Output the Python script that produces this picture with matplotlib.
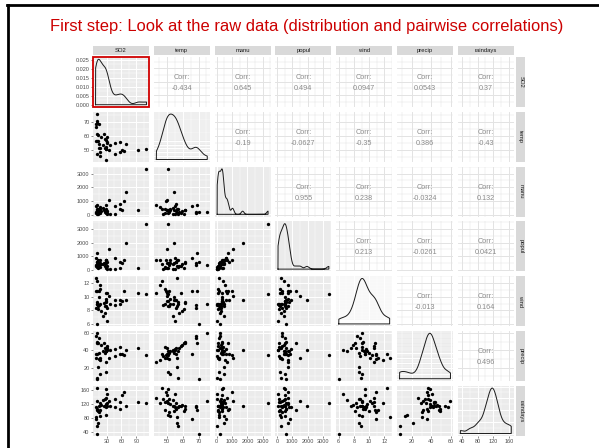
import numpy as np
import matplotlib
matplotlib.use('Agg')
import matplotlib.pyplot as plt
from matplotlib.patches import Rectangle
from matplotlib.lines import Line2D

plt.rcParams['font.family'] = ['Liberation Sans', 'DejaVu Sans']

# ---- data (US air pollution, 41 cities) ----
var_names = ['SO2', 'temp', 'manu', 'popul', 'wind', 'precip', 'raindays']
SO2 = [46, 11, 24, 47, 11, 31, 110, 23, 65, 26, 9, 17, 17, 35, 56, 10, 28, 14, 14, 13, 30,
       10, 10, 16, 29, 18, 9, 31, 14, 69, 10, 61, 94, 26, 28, 12, 29, 56, 28, 8, 36]
temp = [47.6, 56.8, 61.5, 55.0, 47.1, 55.2, 50.6, 54.0, 49.7, 51.5, 66.2, 51.9, 49.0, 49.9,
        49.1, 68.9, 52.3, 68.4, 54.5, 61.0, 55.6, 61.6, 75.5, 45.7, 43.5, 59.4, 68.3, 59.3,
        51.5, 54.6, 70.3, 50.4, 50.0, 57.8, 51.0, 56.7, 51.1, 55.9, 57.3, 56.6, 54.0]
manu = [44, 46, 368, 625, 391, 35, 3344, 462, 1007, 266, 641, 454, 104, 1064, 412, 721, 361,
        136, 381, 91, 291, 337, 207, 569, 699, 275, 204, 96, 181, 1692, 213, 347, 343, 197,
        137, 453, 379, 775, 434, 125, 80]
popul = [116, 244, 497, 905, 463, 71, 3369, 453, 751, 540, 844, 515, 201, 1513, 158, 1233,
         746, 529, 507, 132, 593, 624, 335, 717, 744, 448, 361, 308, 347, 1950, 582, 520, 179,
         299, 176, 716, 531, 622, 757, 277, 80]
wind = [8.8, 8.9, 9.1, 9.6, 12.4, 6.5, 10.4, 7.1, 10.9, 8.6, 10.9, 9.0, 11.2, 10.1, 9.0,
        10.8, 9.7, 8.8, 10.0, 8.2, 8.3, 9.2, 9.0, 11.8, 10.6, 7.9, 8.4, 10.6, 10.9, 9.6, 6.0,
        9.4, 10.6, 7.6, 8.7, 8.7, 9.4, 9.5, 9.3, 12.7, 9.0]
precip = [33.36, 7.77, 48.34, 41.31, 36.11, 40.75, 34.44, 39.04, 34.99, 37.01, 35.94, 12.95,
          30.85, 30.96, 43.37, 48.19, 38.74, 54.47, 37.00, 48.52, 43.11, 49.10, 59.80, 29.07,
          25.94, 46.00, 56.77, 44.68, 30.18, 39.93, 7.05, 36.22, 42.75, 42.59, 15.17, 20.66,
          38.79, 35.89, 38.89, 30.58, 40.25]
raindays = [135, 58, 115, 111, 166, 148, 122, 132, 155, 134, 78, 86, 103, 129, 127, 103, 121,
            116, 99, 100, 123, 105, 128, 123, 137, 119, 113, 116, 98, 115, 36, 147, 125, 115,
            89, 67, 164, 105, 111, 82, 114]

# correlation labels as printed in the upper panels (row by row)
corr_labels = ['-0.434', '0.645', '0.494', '0.0947', '0.0543', '0.37',
               '-0.19', '-0.0627', '-0.35', '0.386', '-0.43',
               '0.955', '0.238', '-0.0324', '0.132',
               '0.213', '-0.0261', '0.0421',
               '-0.013', '0.164',
               '0.496']

major_breaks = {
    'SO2': [30, 60, 90],
    'temp': [50, 60, 70],
    'manu': [0, 1000, 2000, 3000],
    'popul': [0, 1000, 2000, 3000],
    'wind': [6, 8, 10, 12],
    'precip': [20, 40, 60],
    'raindays': [40, 80, 120, 160],
}
density_breaks = [0.000, 0.005, 0.010, 0.015, 0.020, 0.025]
title_text = 'First step: Look at the raw data (distribution and pairwise correlations)'

data = {'SO2': SO2, 'temp': temp, 'manu': manu, 'popul': popul,
        'wind': wind, 'precip': precip, 'raindays': raindays}

# ---- helpers ----
def limits(v):
    v = np.asarray(v, float)
    lo, hi = v.min(), v.max()
    r = hi - lo
    return lo - 0.05 * r, hi + 0.05 * r

def minor_of(br, lim):
    br = list(br)
    step = br[1] - br[0]
    out = []
    x = br[0] - step / 2
    while x <= lim[1]:
        if x >= lim[0]:
            out.append(x)
        x += step / 2
    return [m for m in out if all(abs(m - b) > 1e-9 for b in br)]

def kde(v):
    v = np.asarray(v, float)
    n = len(v)
    sd = v.std(ddof=1)
    q75, q25 = np.percentile(v, [75, 25])
    bw = 0.9 * min(sd, (q75 - q25) / 1.34) * n ** (-0.2)
    xs = np.linspace(v.min(), v.max(), 512)
    ys = np.exp(-0.5 * ((xs[:, None] - v[None, :]) / bw) ** 2).sum(1) / (n * bw * np.sqrt(2 * np.pi))
    return xs, ys

# ---- figure ----
W, H = 599, 448
fig = plt.figure(figsize=(W / 100, H / 100), dpi=100)
fig.patch.set_facecolor('white')

# slide frame
fig.add_artist(Line2D([7 / W, 1], [1 - 5 / H, 1 - 5 / H], color='black', lw=2.0,
                      transform=fig.transFigure))
fig.add_artist(Line2D([8 / W, 8 / W], [1 - 5 / H, 0], color='black', lw=2.0,
                      transform=fig.transFigure))

fig.text(307 / W, 1 - 27 / H, title_text, color='#CC0000', fontsize=11.9,
         ha='center', va='center')

left0, pitch_x, pw = 93.0, 60.8, 56.0
top0, pitch_y, ph = 57.0, 54.8, 50.0
nv = len(var_names)

tick_fs = 4.0
strip_fs = 4.2
corr_fs = 5.2
grey_bg = '#EBEBEB'
tick_col = '#4D4D4D'

lims = {k: limits(v) for k, v in data.items()}

def fmt(v, dens=False):
    if dens:
        return '%.3f' % v
    return '%d' % v

ci = 0
for i, rv in enumerate(var_names):          # row
    for j, cv in enumerate(var_names):      # column
        x0 = left0 + j * pitch_x
        y0 = top0 + i * pitch_y
        ax = fig.add_axes([x0 / W, 1 - (y0 + ph) / H, pw / W, ph / H])
        for s in ax.spines.values():
            s.set_visible(False)
        xlim = lims[cv]
        ax.set_xlim(*xlim)
        xb = major_breaks[cv]
        xm = minor_of(xb, xlim)
        if i == j:
            xs, ys = kde(data[cv])
            ymax = ys.max()
            ylim = (-0.05 * ymax, 1.05 * ymax)
            yb = [b for b in density_breaks if b <= ylim[1]]
            ym = minor_of(density_breaks, ylim)
        else:
            ylim = lims[rv]
            yb = major_breaks[rv]
            ym = minor_of(yb, ylim)
        ax.set_ylim(*ylim)

        if i < j:
            ax.set_facecolor('white')
            gcol = '#E3E3E3'
        else:
            ax.set_facecolor(grey_bg)
            gcol = 'white'
        for m in xm:
            ax.axvline(m, color=gcol, lw=0.35, zorder=0)
        for m in ym:
            ax.axhline(m, color=gcol, lw=0.35, zorder=0)
        for b in xb:
            if xlim[0] <= b <= xlim[1]:
                ax.axvline(b, color=gcol, lw=0.7, zorder=0)
        for b in yb:
            if ylim[0] <= b <= ylim[1]:
                ax.axhline(b, color=gcol, lw=0.7, zorder=0)

        if i == j:
            px = np.concatenate([[xs[0]], xs, [xs[-1], xs[0]]])
            py = np.concatenate([[0], ys, [0, 0]])
            ax.plot(px, py, color='#1A1A1A', lw=0.7, zorder=3)
        elif i > j:
            ax.plot(data[cv], data[rv], 'o', color='black', ms=2.4, mew=0, zorder=3)
        else:
            ax.text(0.5, 0.5 + 4.5 / ph, 'Corr:', transform=ax.transAxes, ha='center',
                    va='center', fontsize=corr_fs, color='#8A8A8A')
            ax.text(0.5, 0.5 - 6.5 / ph, corr_labels[ci], transform=ax.transAxes,
                    ha='center', va='center', fontsize=corr_fs, color='#8A8A8A')
            ci += 1

        # axes ticks
        if i == nv - 1:
            xt = [b for b in xb if xlim[0] <= b <= xlim[1]]
            ax.set_xticks(xt)
            ax.set_xticklabels([fmt(b) for b in xt])
        else:
            ax.set_xticks([])
        if j == 0:
            yt = [b for b in yb if ylim[0] <= b <= ylim[1]]
            ax.set_yticks(yt)
            ax.set_yticklabels([fmt(b, i == 0) for b in yt])
        else:
            ax.set_yticks([])
        ax.tick_params(length=1.5, width=0.4, color='#333333', labelsize=tick_fs,
                       labelcolor=tick_col, pad=1)

        if i == 0 and j == 0:
            ax.add_patch(Rectangle((0, 0), 1, 1, transform=ax.transAxes, fill=False,
                                   edgecolor='#D00000', lw=1.3, clip_on=False, zorder=10))

        # top strips
        if i == 0:
            sax = fig.add_axes([x0 / W, 1 - 55 / H, pw / W, 8.5 / H])
            sax.set_facecolor('#D9D9D9')
            sax.set_xticks([]); sax.set_yticks([])
            for s in sax.spines.values():
                s.set_visible(False)
            sax.text(0.5, 0.5, cv, ha='center', va='center', fontsize=strip_fs,
                     color='#1A1A1A', transform=sax.transAxes)
        # right strips
        if j == nv - 1:
            sax = fig.add_axes([(x0 + pw + 2.5) / W, 1 - (y0 + ph) / H, 9 / W, ph / H])
            sax.set_facecolor('#D9D9D9')
            sax.set_xticks([]); sax.set_yticks([])
            for s in sax.spines.values():
                s.set_visible(False)
            sax.text(0.5, 0.5, rv, ha='center', va='center', fontsize=strip_fs,
                     color='#1A1A1A', rotation=-90, transform=sax.transAxes)

fig.savefig('out.png', dpi=100)
